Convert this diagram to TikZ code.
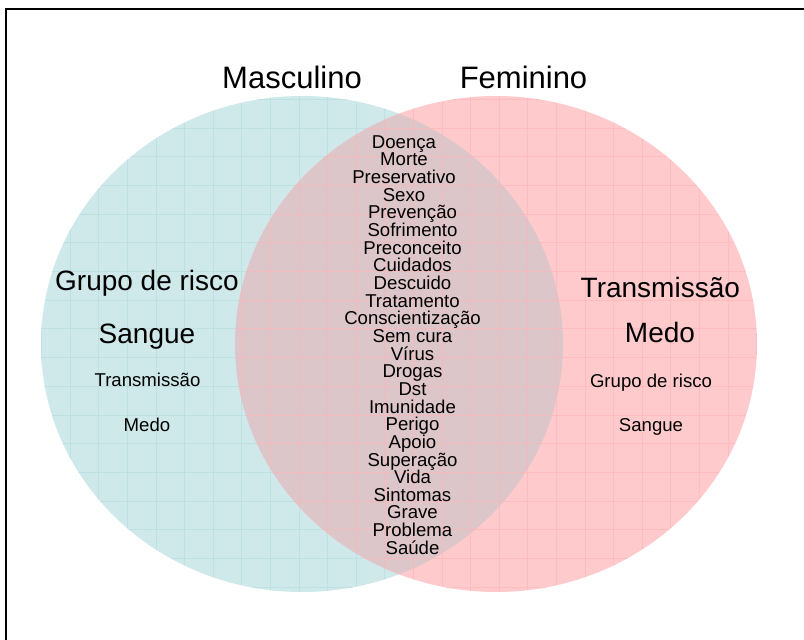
\documentclass[tikz,border=0pt]{standalone}
\usepackage{fontspec}
\setmainfont{Liberation Sans}
\definecolor{tealfill}{HTML}{CFE8EA}
\definecolor{pinkfill}{HTML}{FFCACB}
\definecolor{overfill}{HTML}{DDC6C9}
\definecolor{tealgrid}{HTML}{BFE0E3}
\definecolor{pinkgrid}{HTML}{FFB4B6}
\tikzset{
  lbl/.style={anchor=base, inner sep=0pt, text=black},
  title/.style={lbl, font=\fontsize{31}{31}\selectfont},
  big/.style={lbl, font=\fontsize{28}{28}\selectfont},
  small/.style={lbl, font=\fontsize{18.6}{18.6}\selectfont},
  gridline/.style={line width=0.6pt},
  frame/.style={line width=2pt, draw=black}
}
\begin{document}
\begin{tikzpicture}[x=1pt,y=-1pt]
\useasboundingbox (0,0) rectangle (804,640);
\clip (0,0) rectangle (804,640);
\fill[white] (0,0) rectangle (804,640);
% left set
\fill[tealfill] (302,344) ellipse [x radius=261pt, y radius=248pt];
\begin{scope}
  \clip (302,344) ellipse [x radius=261pt, y radius=248pt];
  \foreach \k in {-2,...,25} \draw[gridline, tealgrid] ({70+28.6*\k},0) -- ({70+28.6*\k},640);
  \foreach \k in {-8,...,11} \draw[gridline, tealgrid] (0,{300+28.7*\k}) -- (804,{300+28.7*\k});
\end{scope}
% right set
\fill[pinkfill] (496,344) ellipse [x radius=261pt, y radius=248pt];
\begin{scope}
  \clip (302,344) ellipse [x radius=261pt, y radius=248pt];
  \fill[overfill] (496,344) ellipse [x radius=261pt, y radius=248pt];
\end{scope}
\begin{scope}
  \clip (496,344) ellipse [x radius=261pt, y radius=248pt];
  \foreach \k in {-2,...,25} \draw[gridline, pinkgrid, opacity=0.6] ({70+28.6*\k},0) -- ({70+28.6*\k},640);
  \foreach \k in {-8,...,11} \draw[gridline, pinkgrid, opacity=0.6] (0,{300+28.7*\k}) -- (804,{300+28.7*\k});
\end{scope}
% frame (open at right and bottom)
\draw[frame] (5.8,660) -- (5.8,8.7) -- (820,8.7);
% titles
\node[title] (masc) at (292,88) {Masculino};
\node[title] (fem) at (523.5,88) {Feminino};
% left only
\node[big] (lg) at (147,290) {Grupo de risco};
\node[big] (ls) at (147,343) {Sangue};
\node[small] (lt) at (147.5,386) {Transmissão};
\node[small] (lm) at (147,431.5) {Medo};
% right only
\node[big] (rt) at (660.3,297.5) {Transmissão};
\node[big] (rm) at (660,342) {Medo};
\node[small] (rg) at (651,387.5) {Grupo de risco};
\node[small] (rs) at (651,431.5) {Sangue};
% intersection
\foreach \w [count=\i from 0] in {Doença,Morte,Preservativo,Sexo}
  \node[small] (w\i) at (404,{148.3+17.65*\i}) {\w};
\foreach \w [count=\i from 4] in {Prevenção,Sofrimento,Preconceito,Cuidados,Descuido,Tratamento,Conscientização,Sem cura,Vírus,Drogas,Dst,Imunidade,Perigo,Apoio,Superação,Vida,Sintomas,Grave,Problema,Saúde}
  \node[small] (w\i) at (412.5,{148.3+17.65*\i}) {\w};
\end{tikzpicture}
\end{document}
